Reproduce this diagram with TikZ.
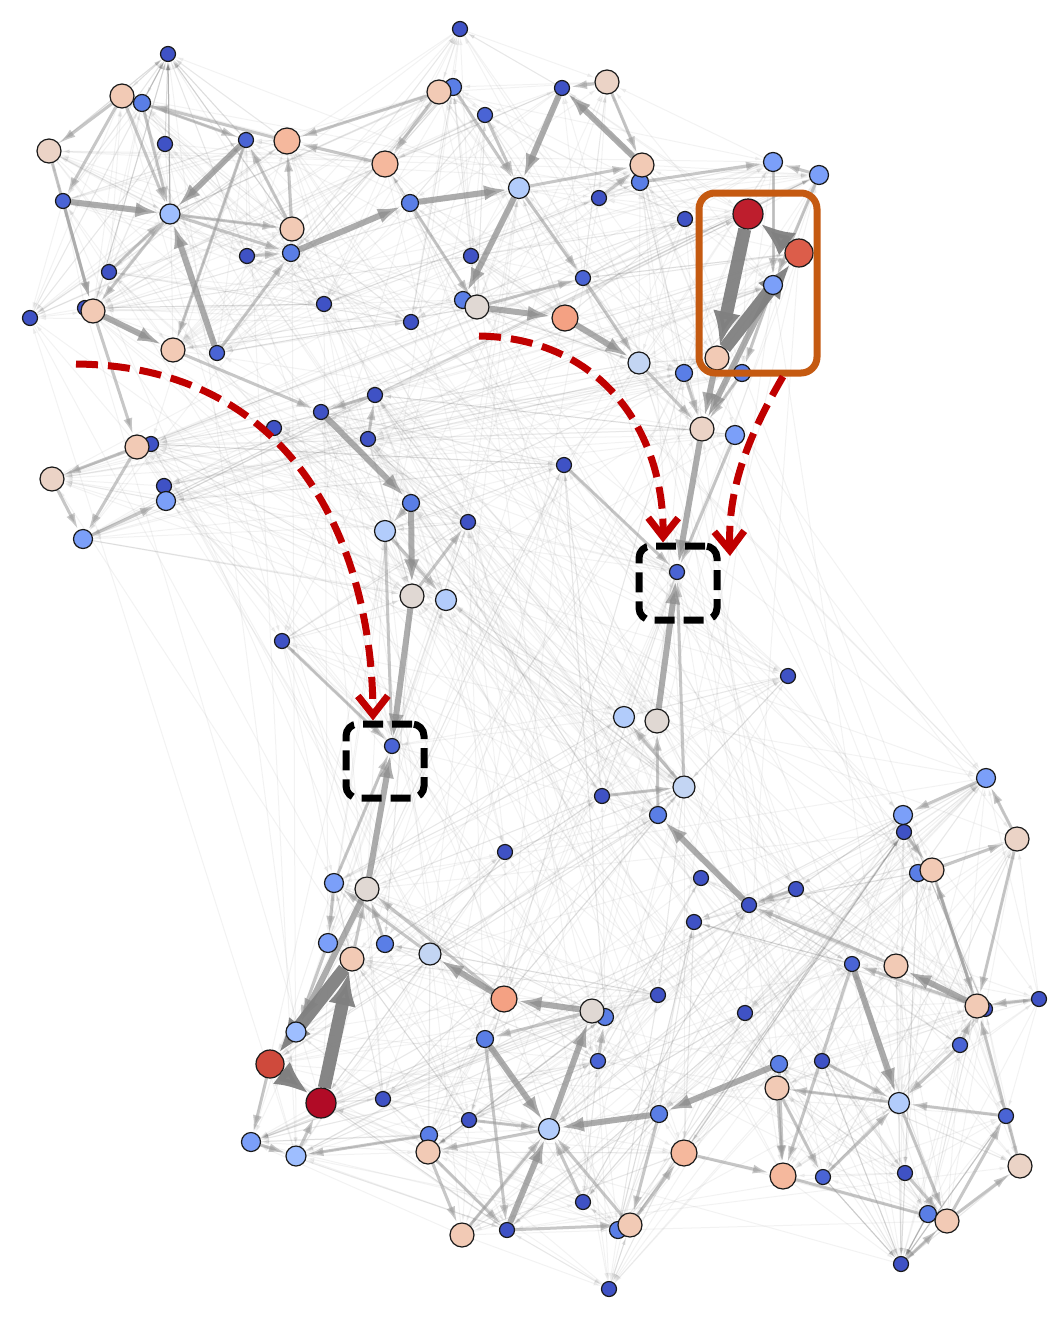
\documentclass[tikz,border=0pt]{standalone}
\usetikzlibrary{arrows.meta}
\pgfdeclarelayer{bgl}
\pgfdeclarelayer{edges}
\pgfsetlayers{bgl,edges,main}
\definecolor{cDB}{HTML}{3F52C5}
\definecolor{cMT}{HTML}{4A64D5}
\definecolor{cMB}{HTML}{5A7EE6}
\definecolor{cLB}{HTML}{7B9FF9}
\definecolor{cLB2}{HTML}{9EBEFF}
\definecolor{cPB}{HTML}{B2CCFB}
\definecolor{cPB2}{HTML}{C3D5F3}
\definecolor{cGB}{HTML}{E0D8D3}
\definecolor{cBE}{HTML}{EBD3C6}
\definecolor{cLP}{HTML}{F2CAB5}
\definecolor{cPE}{HTML}{F5B89D}
\definecolor{cOR}{HTML}{F4A183}
\definecolor{cRD}{HTML}{DC5D4A}
\definecolor{cRD2}{HTML}{CF4A3C}
\definecolor{cDR}{HTML}{BE1E2D}
\definecolor{cDR2}{HTML}{B10B26}
\definecolor{cRA}{HTML}{C00000}
\definecolor{cOB}{HTML}{C55A11}
\newcounter{vc}
\newcommand\VN[4]{\stepcounter{vc}\edef\vnx{\noexpand\node[#4, alias=v\arabic{vc}] (#1) at (#2,#3) {};}\vnx}
\tikzset{
 vtx/.style={circle, draw=black!90, line width=1.2pt, inner sep=0pt},
 nd/.style={vtx, fill=cDB, minimum size=15pt},
 nt/.style={vtx, fill=cMT, minimum size=15pt},
 nb/.style={vtx, fill=cMB, minimum size=17pt},
 nl/.style={vtx, fill=cLB, minimum size=19pt},
 nl2/.style={vtx, fill=cLB2, minimum size=20pt},
 np/.style={vtx, fill=cPB, minimum size=21pt},
 np2/.style={vtx, fill=cPB2, minimum size=22pt},
 ng/.style={vtx, fill=cGB, minimum size=24pt},
 nbe/.style={vtx, fill=cBE, minimum size=24pt},
 nc/.style={vtx, fill=cLP, minimum size=24pt},
 npe/.style={vtx, fill=cPE, minimum size=26pt},
 nor/.style={vtx, fill=cOR, minimum size=26pt},
 nrd/.style={vtx, fill=cRD, minimum size=28pt},
 ndr/.style={vtx, fill=cDR, minimum size=30pt},
 haze/.style={draw=black!55, opacity=0.085, line width=1pt, -{Latex[length=8pt,width=4pt]}},
 eA/.style={draw=black!40, opacity=0.55, line width=3pt, -{Latex[length=17pt,width=9pt]}},
 eB/.style={draw=black!45, opacity=0.72, line width=6pt, -{Latex[length=24pt,width=15pt]}},
 eC/.style={draw=black!50, opacity=0.95, line width=13pt, -{Latex[length=34pt,width=28pt]}},
 redarrow/.style={draw=cRA, line width=7pt, dash pattern=on 22pt off 10pt, -{Straight Barb[length=19pt,width=30pt]}},
 dbox/.style={draw=black, line width=7pt, dash pattern=on 20pt off 9pt, rounded corners=12pt, minimum width=78pt, minimum height=74pt, inner sep=0pt},
 obox/.style={draw=cOB, line width=7pt, rounded corners=16pt, minimum width=118pt, minimum height=180pt, inner sep=0pt},
}
\begin{document}
\begin{tikzpicture}[x=1pt,y=-1pt]
\useasboundingbox (0,0) rectangle (1059,1323);
\begin{pgfonlayer}{bgl}
\fill[white] (0,0) rectangle (1059,1323);
\end{pgfonlayer}
% ---- top-left cluster
\VN{a1}{168}{54}{nd}
\VN{a2}{122}{96}{nc}
\VN{a3}{142}{103}{nb}
\VN{a4}{49}{151}{nbe}
\VN{a5}{165}{144}{nd}
\VN{a6}{246}{140}{nt}
\VN{a7}{287}{141}{npe}
\VN{a8}{63}{201}{nt}
\VN{a9}{170}{214}{nl2}
\VN{a10}{292}{229}{nc}
\VN{a11}{247}{256}{nd}
\VN{a12}{291}{253}{nb}
\VN{a13}{109}{272}{nd}
\VN{a14b}{85}{308}{nd}
\VN{a14}{93}{311}{nc}
\VN{a15}{30}{318}{nd}
\VN{a16}{173}{350}{nc}
\VN{a17}{217}{353}{nt}
\VN{a18}{324}{304}{nd}
\VN{a19}{411}{322}{nd}
\VN{a20}{385}{164}{npe}
\VN{a21}{410}{203}{nb}
\VN{a22b}{453}{87}{nb}
\VN{a22}{439}{92}{nc}
\VN{a23}{460}{29}{nd}
\VN{a24}{485}{115}{nt}
\VN{a25}{471}{256}{nd}
\VN{a26b}{463}{300}{nb}
\VN{a26}{477}{307}{ng}
% ---- top-right cluster
\VN{b1}{519}{188}{np}
\VN{b2}{562}{88}{nd}
\VN{b3}{607}{82}{nbe}
\VN{b4b}{640}{182}{nb}
\VN{b4}{642}{165}{nc}
\VN{b5}{599}{198}{nd}
\VN{b6}{583}{278}{nt}
\VN{b7}{565}{318}{nor}
\VN{b8}{685}{219}{nd}
\VN{b9}{639}{363}{np2}
\VN{b10}{684}{373}{nb}
\VN{b11}{773}{162}{nl}
\VN{b12}{819}{175}{nl}
\VN{R1}{748}{214}{ndr}
\VN{R2}{799}{253}{nrd}
\VN{b13}{773}{285}{nl}
\VN{b14}{717}{358}{nc}
\VN{b15}{742}{373}{nb}
\VN{b16}{702}{429}{nbe}
\VN{b17}{735}{435}{nl}
% ---- middle
\VN{c1}{52}{479}{nbe}
\VN{c2b}{151}{444}{nd}
\VN{c2}{137}{447}{nc}
\VN{c3}{164}{486}{nd}
\VN{c4}{166}{501}{nl}
\VN{c5}{83}{539}{nl}
\VN{c6}{274}{428}{nd}
\VN{c7}{321}{412}{nd}
\VN{c8}{375}{395}{nd}
\VN{c9}{368}{439}{nd}
\VN{c10}{411}{503}{nb}
\VN{c11}{385}{531}{np}
\VN{c12}{468}{522}{nd}
\VN{c13}{412}{596}{ng}
\VN{c14}{446}{600}{np}
\VN{c15}{282}{641}{nd}
\VN{T1}{392}{746}{nt}
\VN{c16}{564}{465}{nd}
\VN{T2}{677}{572}{nt}
\VN{c17}{788}{676}{nd}
\VN{c18}{624}{717}{np}
\VN{c19}{657}{721}{ng}
\VN{c20}{684}{787}{np2}
\VN{c21}{602}{796}{nd}
\VN{c22}{658}{815}{nb}
% ---- bottom-left cluster
\VN{d1}{505}{852}{nd}
\VN{d2}{334}{883}{nl}
\VN{d3}{367}{889}{ng}
\VN{d4}{328}{943}{nl}
\VN{d5}{385}{944}{nb}
\VN{d6}{430}{954}{np2}
\VN{d7}{352}{959}{nc}
\VN{d8}{504}{999}{nor}
\VN{d9b}{605}{1017}{nb}
\VN{d9}{592}{1011}{ng}
\VN{d10}{658}{995}{nd}
\VN{d11}{296}{1032}{nl2}
\VN{R3}{270}{1064}{nrd, fill=cRD2}
\VN{R4}{321}{1103}{ndr, fill=cDR2}
\VN{d12}{383}{1099}{nd}
\VN{d13}{485}{1039}{nb}
\VN{d14}{598}{1061}{nt}
\VN{d15}{251}{1142}{nl}
\VN{d16}{296}{1156}{nl2}
\VN{d17}{469}{1120}{nd}
\VN{d18b}{429}{1135}{nb}
\VN{d18}{428}{1152}{nc}
\VN{d19}{549}{1129}{np}
\VN{d20}{583}{1202}{nd}
\VN{d21}{462}{1235}{nc}
\VN{d22}{507}{1230}{nd}
\VN{d23b}{618}{1230}{nb}
\VN{d23}{630}{1225}{nc}
\VN{d24}{609}{1289}{nd}
\VN{d25}{684}{1153}{npe}
\VN{d26}{659}{1114}{nb}
% ---- bottom-right cluster
\VN{e1}{701}{878}{nd}
\VN{e2}{796}{889}{nd}
\VN{e3}{749}{905}{nd}
\VN{e4}{694}{922}{nd}
\VN{e5}{745}{1013}{nd}
\VN{e6}{986}{778}{nl}
\VN{e7}{903}{815}{nl}
\VN{e8}{904}{832}{nd}
\VN{e9}{1017}{839}{nbe}
\VN{e10b}{918}{873}{nb}
\VN{e10}{932}{870}{nc}
\VN{e11}{852}{964}{nt}
\VN{e12}{896}{966}{nc}
\VN{e13b}{985}{1009}{nd}
\VN{e13}{977}{1006}{nc}
\VN{e14}{1039}{999}{nd}
\VN{e15}{960}{1045}{nt}
\VN{e16}{779}{1064}{nb}
\VN{e17}{822}{1061}{nd}
\VN{e18}{777}{1088}{nc}
\VN{e19}{899}{1103}{np}
\VN{e20}{1006}{1116}{nt}
\VN{e21}{783}{1176}{npe}
\VN{e22}{823}{1177}{nt}
\VN{e23}{905}{1173}{nd}
\VN{e24}{1020}{1166}{nbe}
\VN{e25b}{928}{1214}{nb}
\VN{e25}{947}{1221}{nc}
\VN{e26}{901}{1264}{nd}
% ---- annotations
\node[dbox] (box1) at (385,761) {};
\node[dbox] (box2) at (678,583) {};
\node[obox] (obox) at (758,283) {};
\coordinate (s1) at (76,364);
\coordinate (s2) at (479,336);
\coordinate (t3) at (730,556);
\draw[redarrow] (s1) .. controls (290,366) and (372,540) .. ([xshift=-12pt]box1.north);
\draw[redarrow] (s2) .. controls (600,338) and (664,430) .. ([xshift=-15pt]box2.north);
\draw[redarrow] ([xshift=25pt]obox.south) .. controls (746,440) and (728,490) .. (t3);
% ---- edges
\begin{pgfonlayer}{edges}
\pgfmathsetseed{11}
\foreach \k in {1,...,1100}{
  \pgfmathrandominteger{\ra}{1}{\thevc}
  \pgfmathrandominteger{\rd}{-16}{16}
  \pgfmathtruncatemacro\rb{max(1,min(\thevc,\ra+\rd))}
  \ifnum\ra=\rb\relax\else\draw[haze] (v\ra) -- (v\rb);\fi
}
\foreach \k in {1,...,260}{
  \pgfmathrandominteger{\ra}{1}{\thevc}
  \pgfmathrandominteger{\rb}{1}{\thevc}
  \ifnum\ra=\rb\relax\else\draw[haze] (v\ra) -- (v\rb);\fi
}
\foreach \u/\w in {a2/a4, a2/a8, a9/a10, a9/a12, a10/a6, a10/a7, a11/a12, a16/c7,
  a17/a12, a22/a20, a20/a7, a21/a26, b3/b2, b3/b4, b1/b4, b4b/b11, a26/b6, b1/b6,
  b9/b16, b17/T2, c22/c19, c20/c18, c2/c1, c1/c5, c5/c4, c11/c14, c13/c12, d7/d3,
  d2/T1, d9/d13, d19/d18, d18/d22, d18/d21, d22/d23, R3/d15, d15/d16, d18b/d16,
  e12/e3, e13/e11, e6/e7, e10/e9, e9/e6, e19/e18, e20/e19, e18/e22, e22/e19,
  e25/e20, d25/e21, d23/d25, e18/e21, e21/e25, e9/e13, e13/e10, a8/a14, a4/a14,
  a9/a14, a3/a9, a7/a3, a22b/b1, b12/b11, b11/b13, b12/b13, b15/b16, d8/d3, d2/d4,
  d4/d11, c8/c7, c9/c8, c2/c5, a14/c2, b5/b4, b6/b9, b10/b16, d14/d9b, d17/d19,
  e17/e19, e15/e19, e25/e24, e19/e25, e8/e10, e24/e13, d26/d23, d21/d19, e16/e18,
  a3/a6, a22/a7, a24/b1, a2/a9, a6/a16, a13/a9, b13/b15, c10/c11, c11/T1, c15/T1,
  c20/T2, c21/c20, d5/d3, d6/d2, d16/R4, d11/R3, d13/d22, d20/d19, d23/d19,
  e10/e13, e15/e13, e11/e21, e16/e21, e23/e25, e26/e25, e14/e13, e2/e3, c16/T2}
  \draw[eA] (\u) -- (\w);
\foreach \u/\w in {a8/a9, a12/a21, a21/b1, b1/a26b, a26/b7, b7/b9, b2/b1, b4/b2,
  c7/c10, c10/c13, c13/T1, d3/T1, b16/T2, c19/T2, d8/d6, d9/d8, d19/d9, d26/d19,
  e16/d26, e3/c22, e13/e12, e11/e19, b14/b16, b13/b16, a17/a9, a6/a9, a14/a16,
  d3/d11, d13/d19, d22/d19}
  \draw[eB] (\u) -- (\w);
\foreach \u/\w in {R1/b14, R2/R1, b14/R2, R3/R4, R4/d7, d7/R3}
  \draw[eC] (\u) -- (\w);
\end{pgfonlayer}
\end{tikzpicture}
\end{document}
